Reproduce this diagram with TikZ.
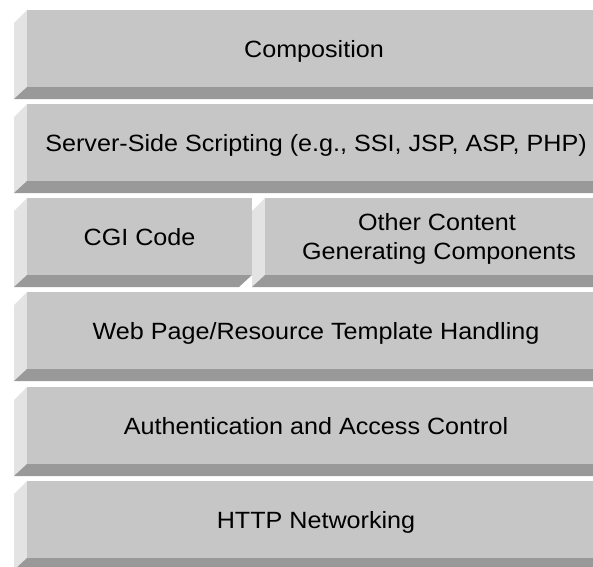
\documentclass[tikz,border=0pt]{standalone}
\usepackage{fontspec}
\setmainfont{Liberation Sans}[FakeStretch=1.07]
\definecolor{frontc}{HTML}{C6C6C6}
\definecolor{leftc}{HTML}{E3E3E3}
\definecolor{botc}{HTML}{999999}
\newcommand{\layerbox}[4]{%
  \fill[leftc] (#1,#3) -- (#1,#4) -- ({#1-13},{#4+12}) -- ({#1-13},{#3+13}) -- cycle;
  \fill[botc] (#1,#4) -- (#2,#4) -- ({#2-13},{#4+12}) -- ({#1-13},{#4+12}) -- cycle;
  \fill[frontc] (#1,#3) rectangle (#2,#4);
}
\begin{document}
\begin{tikzpicture}[x=1pt,y=-1pt,
  lbl/.style={font=\fontsize{23.5}{29}\selectfont, inner sep=0pt, anchor=base, text=black}]
\path[use as bounding box] (0,0) rectangle (593,566);
\clip (0,0) rectangle (593,566);
\fill[white] (0,0) rectangle (593,566);
\layerbox{27}{620}{10}{87}
\layerbox{27}{620}{104}{181}
\layerbox{265}{620}{198}{275}
\layerbox{27}{252}{198}{275}
\layerbox{27}{620}{292}{369}
\layerbox{27}{620}{387}{464}
\layerbox{27}{620}{481}{558}
\node[lbl] (comp) at (314,57) {Composition};
\node[lbl] (ssi) at (316,151) {Server-Side Scripting (e.g., SSI, JSP, ASP, PHP)};
\node[lbl] (cgi) at (139.5,245) {CGI Code};
\node[lbl] (other1) at (437,230) {Other Content};
\node[lbl] (other2) at (439,259) {Generating Components};
\node[lbl] (web) at (316,339) {Web Page/Resource Template Handling};
\node[lbl] (auth) at (316,434) {Authentication and Access Control};
\node[lbl] (http) at (316,528) {HTTP Networking};
\end{tikzpicture}
\end{document}
